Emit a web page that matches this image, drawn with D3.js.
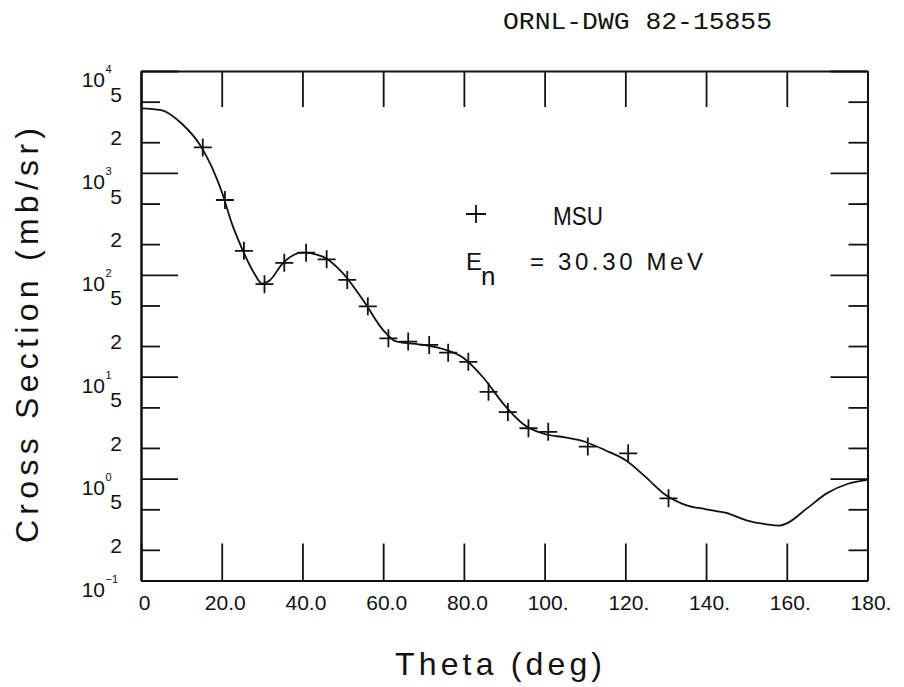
<!DOCTYPE html>
<html>
<head>
<meta charset="utf-8">
<script src="https://cdn.jsdelivr.net/npm/d3@7"></script>
<style>
  html, body { margin: 0; padding: 0; background: #fff; }
  svg { display: block; }
  text { fill: #111; }
</style>
</head>
<body>
<svg id="chart" width="904" height="687" font-family="Liberation Sans, DejaVu Sans, sans-serif"></svg>
<script>
// ---- data ----
const xTickValues = [0, 20, 40, 60, 80, 100, 120, 140, 160, 180];
const xTickLabels = ["0", "20.0", "40.0", "60.0", "80.0", "100.", "120.", "140.", "160.", "180."];
const yDecades = [0.1, 1, 10, 100, 1000, 10000];
const yDecadeExponents = ["\u22121", "0", "1", "2", "3", "4"];
const yMinorValues = [0.2, 0.5, 2, 5, 20, 50, 200, 500, 2000, 5000];
const yMinorLabels = ["2", "5", "2", "5", "2", "5", "2", "5", "2", "5"];

// MSU measured points (theta deg, cross section mb/sr)
const msuTheta = [15.3, 20.8, 25.5, 30.6, 35.5, 40.9, 46.0, 51.1, 56.2, 61.3, 66.2, 71.4, 76.1, 81.1, 86.1, 90.9, 96.0, 100.9, 110.7, 120.7, 130.7];
const msuSigma = [1780, 542, 172, 81, 131, 165, 142, 89, 49, 23.8, 22.1, 20.5, 17.2, 14.0, 7.1, 4.5, 3.12, 2.88, 2.06, 1.77, 0.64];

// calculated curve
const curveTheta = [0, 5, 10, 15, 17.5, 20, 22.5, 25, 28, 30, 32, 35, 40, 45, 50, 55, 60, 63, 70, 75, 80, 85, 90, 95, 100, 105, 110, 115, 120, 125, 130, 135, 140, 145, 150, 155, 158, 160, 165, 170, 175, 180];
const curveSigma = [4300, 4140, 3070, 1780, 1150, 655, 320, 182, 104, 82, 89, 128, 165, 151, 104, 56.6, 28.7, 22.4, 20.5, 18.6, 15.2, 9.6, 5.3, 3.36, 2.74, 2.54, 2.30, 1.90, 1.52, 1.04, 0.69, 0.55, 0.50, 0.46, 0.39, 0.356, 0.345, 0.364, 0.51, 0.72, 0.885, 0.97];

const legendName = "MSU";
const energyLabel = "= 30.30 MeV";
const drawingId = "ORNL-DWG 82-15855";
const xTitle = "Theta (deg)";
const yTitle = "Cross Section (mb/sr)";

// ---- layout ----
const L = 141, R = 867.5, T = 71, B = 580.5;
const svg = d3.select("#chart");
const x = d3.scaleLinear().domain([0, 180]).range([L, R]);
const y = d3.scaleLog().domain([0.1, 10000]).range([B, T]);

const axisStyle = g => {
  g.attr("font-family", null);
  g.selectAll("path.domain").attr("stroke", "#111").attr("stroke-width", 2);
  g.selectAll(".tick line").attr("stroke", "#111").attr("stroke-width", 1.8);
};

// bottom axis with labels
svg.append("g").attr("transform", `translate(0,${B})`)
  .call(d3.axisBottom(x).tickValues(xTickValues).tickSizeInner(-37).tickSizeOuter(0).tickPadding(15)
    .tickFormat((d, i) => xTickLabels[i]))
  .call(axisStyle)
  .call(g => g.selectAll("text").attr("font-size", 21).attr("dx", 3).attr("fill", "#111"));

// top axis
svg.append("g").attr("transform", `translate(0,${T})`)
  .call(d3.axisTop(x).tickValues(xTickValues).tickSizeInner(-36).tickSizeOuter(0).tickFormat(""))
  .call(axisStyle);

// left axis: decades and minor
svg.append("g").attr("transform", `translate(${L},0)`)
  .call(d3.axisLeft(y).tickValues(yDecades).tickSizeInner(-37).tickSizeOuter(0).tickFormat(""))
  .call(axisStyle);
svg.append("g").attr("transform", `translate(${L},0)`)
  .call(d3.axisLeft(y).tickValues(yMinorValues).tickSizeInner(-19).tickSizeOuter(0).tickFormat(""))
  .call(axisStyle);

// right axis
svg.append("g").attr("transform", `translate(${R},0)`)
  .call(d3.axisRight(y).tickValues(yDecades).tickSizeInner(-37).tickSizeOuter(0).tickFormat(""))
  .call(axisStyle);
svg.append("g").attr("transform", `translate(${R},0)`)
  .call(d3.axisRight(y).tickValues(yMinorValues).tickSizeInner(-19).tickSizeOuter(0).tickFormat(""))
  .call(axisStyle);

// y labels
const yl = svg.append("g");
yDecades.forEach((v, i) => {
  const py = y(v);
  yl.append("text").attr("x", 105).attr("y", py + 16).attr("text-anchor", "end")
    .attr("font-size", 21).text("10");
  yl.append("text").attr("x", 105.5).attr("y", py + 2)
    .attr("text-anchor", "start")
    .attr("font-size", 11).text(yDecadeExponents[i]);
});
yMinorValues.forEach((v, i) => {
  const py = y(v);
  const lab = yMinorLabels[i];
  yl.append("text").attr("x", 122).attr("y", lab === "5" ? py : py + 3)
    .attr("text-anchor", "end").attr("font-size", 21).text(lab);
});

// curve
const line = d3.line().x((d, i) => x(curveTheta[i])).y(d => y(d)).curve(d3.curveMonotoneX);
svg.append("path").datum(curveSigma).attr("d", line)
  .attr("fill", "none").attr("stroke", "#111").attr("stroke-width", 1.8);

// points
const cross = (cx, cy, hw, hh) => `M${cx - hw},${cy}H${cx + hw}M${cx},${cy - hh}V${cy + hh}`;
svg.append("g").selectAll("path").data(msuTheta).join("path")
  .attr("d", (t, i) => cross(x(t), y(msuSigma[i]), 9, 9))
  .attr("stroke", "#111").attr("stroke-width", 1.8).attr("fill", "none");

// legend
svg.append("path").attr("d", cross(476, 214, 10, 9)).attr("stroke", "#111").attr("stroke-width", 1.8);
svg.append("text").attr("x", 553).attr("y", 225).attr("font-size", 26)
  .attr("textLength", 50).attr("lengthAdjust", "spacingAndGlyphs").text(legendName);
svg.append("text").attr("x", 466).attr("y", 270).attr("font-size", 24).text("E");
svg.append("text").attr("x", 481).attr("y", 285).attr("font-size", 26).text("n");
svg.append("text").attr("x", 530).attr("y", 270).attr("font-size", 24)
  .attr("textLength", 173).attr("lengthAdjust", "spacing").text(energyLabel);

// drawing id (typewriter style)
svg.append("text").attr("x", 503).attr("y", 29).attr("font-size", 24)
  .style("font-family", "'Liberation Mono', 'DejaVu Serif', serif")
  .attr("textLength", 269).attr("lengthAdjust", "spacingAndGlyphs").text(drawingId);

// axis titles
svg.append("text").attr("x", 395).attr("y", 675).attr("font-size", 32)
  .attr("textLength", 207).attr("lengthAdjust", "spacing").text(xTitle);
svg.append("text").attr("transform", "translate(38,543) rotate(-90)")
  .attr("x", 0).attr("y", 0).attr("font-size", 32)
  .attr("textLength", 415).attr("lengthAdjust", "spacing").text(yTitle);
</script>
</body>
</html>
